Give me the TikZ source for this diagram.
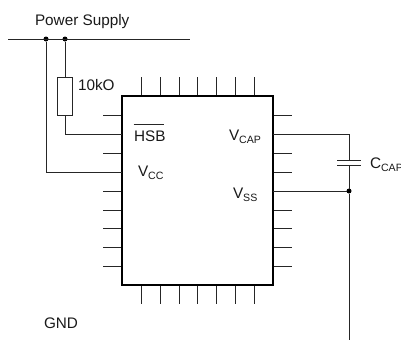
\documentclass[tikz,border=0pt]{standalone}
\usepackage{fontspec}
\setmainfont{Liberation Sans}
\usetikzlibrary{calc}
\tikzset{
  wire/.style={draw=black!85,line width=0.8pt},
  pin/.style={draw=black!85,line width=0.8pt},
  chipbox/.style={draw=black,line width=1.3pt,fill=white,minimum width=151pt,minimum height=189pt,inner sep=0pt,outer sep=0pt},
  resbox/.style={draw=black!85,line width=0.8pt,fill=white,minimum width=15.5pt,minimum height=38pt,inner sep=0pt,outer sep=0pt},
  dot/.style={circle,fill=black,minimum size=5pt,inner sep=0pt,outer sep=0pt},
  lbl/.style={inner sep=0pt,outer sep=0pt,anchor=base west,font=\fontsize{15.3}{17}\selectfont,text=black!90},
  plate/.style={draw=black!85,line width=0.8pt}
}
\newcommand{\subt}[1]{\raisebox{-3pt}{\fontsize{10.6}{12}\selectfont #1}}
\begin{document}
\begin{tikzpicture}[x=1pt,y=-1pt]
\useasboundingbox (0,0) rectangle (401,340);
\coordinate (busL) at (8,39);
\coordinate (busR) at (190,39);
\node[dot] (d1) at (46,39) {};
\node[dot] (d2) at (65,39) {};
\draw[wire] (busL) -- (busR);
\node[resbox] (res) at (65,96) {};
\foreach \x in {141,160,179,197.5,216,235,254}{
  \draw[pin] (\x,77) -- (\x,96);
  \draw[pin] (\x,285) -- (\x,304);
}
\foreach \y in {115,134,153,172,191,210,228.5,247,266}{
  \draw[pin] (103,\y) -- (122,\y);
  \draw[pin] (273,\y) -- (292,\y);
}
\node[chipbox] (chip) at (197.5,190.5) {};
\coordinate (pHSB) at (122,134);
\coordinate (pVCC) at (122,172);
\coordinate (pCAP) at (273,134);
\coordinate (pSS) at (273,191);
\coordinate (plateT) at (349,160);
\coordinate (plateB) at (349,165);
\node[dot] (d3) at (349,191) {};
\coordinate (gndEnd) at (349,340);
\draw[wire] (d1) -- (46,172) -- (pVCC);
\draw[wire] (d2) -- (res.north);
\draw[wire] (res.south) -- (65,134) -- (pHSB);
\draw[wire] (pCAP) -- (349,134) -- (plateT);
\draw[wire] (plateB) -- (d3);
\draw[wire] (pSS) -- (d3);
\draw[wire] (d3) -- (gndEnd);
\draw[plate] (337,160) -- (361,160);
\draw[plate] (337,165) -- (361,165);
\node[lbl] (ps) at (35,25) {Power Supply};
\node[lbl] (rv) at (78,90.5) {10kO};
\node[lbl] (hsb) at (134,141) {HSB};
\coordinate (hsbL) at (133.5,124);
\coordinate (hsbR) at (164,124);
\draw[wire] (hsbL) -- (hsbR);
\node[lbl] (vcc) at (138,176) {V\subt{CC}};
\node[lbl] (vcap) at (229,140) {V\subt{CAP}};
\node[lbl] (vss) at (233,198) {V\subt{SS}};
\node[lbl] (ccap) at (370,168) {C\subt{CAP}};
\node[lbl] (gnd) at (44,328) {GND};
\end{tikzpicture}
\end{document}
